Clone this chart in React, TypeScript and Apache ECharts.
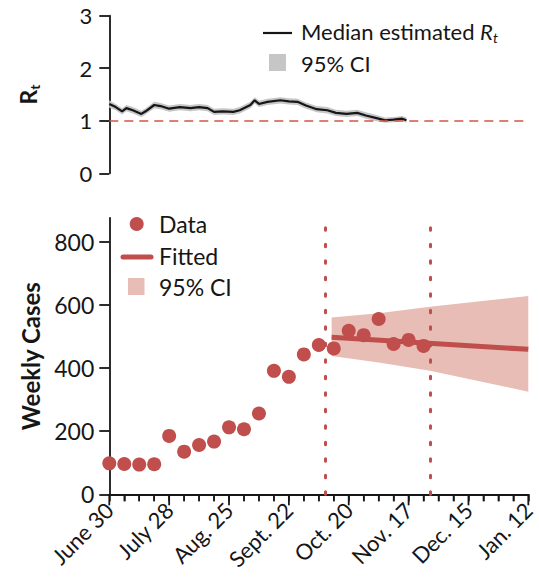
import React, { useEffect, useRef } from "react";
import * as echarts from "echarts";

// Days since June 30 for the estimated reproduction number
const rtDays = [0, 3, 6, 8, 11, 15, 17, 21, 24, 28, 33, 38, 42, 46, 49, 53, 58, 61, 66, 68, 70, 74, 80, 84, 88, 92, 97, 102, 106, 111, 116, 120, 125, 129, 133, 137, 139];
const rtMedian = [1.32, 1.26, 1.18, 1.24, 1.2, 1.13, 1.18, 1.3, 1.28, 1.23, 1.26, 1.24, 1.26, 1.24, 1.17, 1.18, 1.17, 1.2, 1.3, 1.39, 1.32, 1.36, 1.39, 1.37, 1.36, 1.29, 1.22, 1.2, 1.15, 1.13, 1.15, 1.1, 1.05, 1.01, 1.02, 1.04, 1.01];
const rtLower = [1.25, 1.2, 1.12, 1.18, 1.14, 1.07, 1.12, 1.24, 1.22, 1.17, 1.2, 1.18, 1.2, 1.18, 1.11, 1.12, 1.11, 1.14, 1.24, 1.33, 1.26, 1.3, 1.33, 1.31, 1.3, 1.23, 1.16, 1.14, 1.09, 1.07, 1.09, 1.04, 0.99, 0.96, 0.97, 0.99, 0.96];
const rtUpper = [1.39, 1.32, 1.24, 1.3, 1.26, 1.19, 1.24, 1.36, 1.34, 1.29, 1.32, 1.3, 1.32, 1.3, 1.23, 1.24, 1.23, 1.26, 1.36, 1.45, 1.38, 1.42, 1.45, 1.43, 1.42, 1.35, 1.28, 1.26, 1.21, 1.19, 1.21, 1.16, 1.11, 1.06, 1.07, 1.09, 1.06];

// Weekly case counts
const caseDays = [0, 7, 14, 21, 28, 35, 42, 49, 56, 63, 70, 77, 84, 91, 98, 105, 112, 119, 126, 133, 140, 147];
const weeklyCases = [98, 96, 94, 95, 185, 135, 156, 167, 212, 206, 256, 391, 372, 443, 473, 462, 518, 504, 555, 476, 489, 470];

// Projection
const fitDays = [104, 196];
const fitValues = [497, 459];
const ciDays = [104, 126, 150, 196];
const ciUpper = [560, 573, 594, 628];
const ciLower = [438, 417, 391, 325];

// Vertical reference dates
const refDays = [101, 150];

const tickLabels = ["June 30", "July 28", "Aug. 25", "Sept. 22", "Oct. 20", "Nov. 17", "Dec. 15", "Jan. 12"];
const labelDays = [0, 28, 56, 84, 112, 140, 168, 196];
const weekDays = [0, 7, 14, 21, 28, 35, 42, 49, 56, 63, 70, 77, 84, 91, 98, 105, 112, 119, 126, 133, 140, 147, 154, 161, 168, 175, 182, 189, 196];
const caseTicks = [0, 200, 400, 600, 800];

const RED = "#bf4e4c";
const PINK = "#e7bdb5";
const GREY = "#c6c6c6";
const INK = "#161616";
const FONT = "Lato";

function bandSeries(
  axisIndex: number,
  days: number[],
  lower: number[],
  upper: number[],
  fill: string
) {
  return {
    type: "custom",
    xAxisIndex: axisIndex,
    yAxisIndex: axisIndex,
    silent: true,
    data: days.map((d, i) => [d, lower[i], upper[i]]),
    encode: { x: 0, y: [1, 2] },
    renderItem: (params: any, api: any) => {
      if (params.dataIndex !== 0) return null;
      const top = days.map((d, i) => api.coord([d, upper[i]]));
      const bottom = days.map((d, i) => api.coord([d, lower[i]])).reverse();
      return {
        type: "polygon",
        shape: { points: top.concat(bottom) },
        style: { fill },
      };
    },
    z: 1,
  };
}

const axisLineStyle = { color: INK, width: 1.8 };

export default function App() {
  const ref = useRef<HTMLDivElement>(null);

  useEffect(() => {
    if (!ref.current) return;
    const chart = echarts.init(ref.current, null, { renderer: "svg" });
    const option: any = {
      animation: false,
      textStyle: { fontFamily: FONT, color: INK },
      grid: [
        { left: 109.3, top: 15.7, width: 419, height: 157.6, outerBoundsMode: "none", containLabel: false },
        { left: 109.3, top: 218, width: 419, height: 276.3, outerBoundsMode: "none", containLabel: false },
      ],
      xAxis: [
        { gridIndex: 0, type: "value", min: 0, max: 196, show: false },
        {
          gridIndex: 1,
          type: "value",
          position: "bottom",
          min: 0,
          max: 196,
          interval: 7,
          axisLine: { show: true, lineStyle: axisLineStyle },
          axisTick: { show: true, length: 7, customValues: weekDays, lineStyle: { color: INK, width: 1.5 } },
          splitLine: { show: false },
          axisLabel: {
            rotate: 45,
            margin: 12,
            fontSize: 22,
            color: INK,
            fontFamily: FONT,
            verticalAlign: "middle",
            padding: [6, 0, 0, 0],
            customValues: labelDays,
            formatter: (v: number) => tickLabels[labelDays.indexOf(v)] ?? "",
          },
        },
      ],
      yAxis: [
        {
          gridIndex: 0,
          type: "value",
          min: 0,
          max: 3,
          interval: 1,
          axisLine: { show: true, lineStyle: axisLineStyle },
          axisTick: { show: true, length: 10, lineStyle: { color: INK, width: 1.8 } },
          splitLine: { show: false },
          axisLabel: { fontSize: 22, margin: 17, color: INK, fontFamily: FONT },
          name: "{b|R}{s|t}",
          nameLocation: "middle",
          nameRotate: 90,
          nameGap: 68,
          nameTextStyle: {
            rich: {
              b: { fontSize: 23, fontWeight: "bold", fontFamily: FONT, color: INK },
              s: { fontSize: 14, fontWeight: "bold", fontFamily: FONT, color: INK, padding: [12, 0, 0, 0] },
            },
          },
        },
        {
          gridIndex: 1,
          type: "value",
          min: 0,
          max: 875,
          axisLine: { show: true, lineStyle: axisLineStyle },
          axisTick: { show: true, length: 10, customValues: caseTicks, lineStyle: { color: INK, width: 1.8 } },
          splitLine: { show: false },
          axisLabel: { fontSize: 23, margin: 15, color: INK, fontFamily: FONT, customValues: caseTicks },
          name: "Weekly Cases",
          nameLocation: "middle",
          nameRotate: 90,
          nameGap: 67,
          nameTextStyle: { fontSize: 24, fontWeight: "bold", fontFamily: FONT, color: INK },
        },
      ],
      series: [
        bandSeries(0, rtDays, rtLower, rtUpper, GREY),
        {
          type: "line",
          xAxisIndex: 0,
          yAxisIndex: 0,
          data: rtDays.map((d, i) => [d, rtMedian[i]]),
          showSymbol: false,
          symbol: "none",
          lineStyle: { color: INK, width: 2.2 },
          z: 3,
          markLine: {
            silent: true,
            symbol: "none",
            label: { show: false },
            lineStyle: { color: "#d6544a", width: 1.6, type: [9, 6] },
            data: [{ yAxis: 1 }],
          },
        },
        // weekly ticks, longer at the labelled 4-week dates
        {
          type: "custom",
          xAxisIndex: 1,
          yAxisIndex: 1,
          silent: true,
          clip: false,
          data: weekDays.map((d) => [d, 0]),
          encode: { x: 0, y: 1 },
          renderItem: (params: any, api: any) => {
            const day = api.value(0);
            const p = api.coord([day, 0]);
            const major = labelDays.indexOf(day) >= 0;
            return {
              type: "line",
              shape: { x1: p[0], y1: p[1], x2: p[0], y2: p[1] + (major ? 11 : 7) },
              style: { stroke: INK, lineWidth: major ? 1.8 : 1.5 },
              z2: 10,
            };
          },
          z: 10,
        },
        bandSeries(1, ciDays, ciLower, ciUpper, PINK),
        {
          type: "line",
          xAxisIndex: 1,
          yAxisIndex: 1,
          data: fitDays.map((d, i) => [d, fitValues[i]]),
          symbol: "none",
          lineStyle: { color: RED, width: 5 },
          z: 3,
        },
        {
          type: "scatter",
          xAxisIndex: 1,
          yAxisIndex: 1,
          data: caseDays.map((d, i) => [d, weeklyCases[i]]),
          symbolSize: 14,
          itemStyle: { color: RED, opacity: 1 },
          z: 4,
          markLine: {
            silent: true,
            symbol: "none",
            label: { show: false },
            lineStyle: { color: RED, width: 3, type: [2.5, 14], cap: "round" },
            data: refDays.map((d) => ({ xAxis: d })),
          },
        },
      ],
      graphic: [
        // Rt legend
        { type: "line", shape: { x1: 263, y1: 33, x2: 292, y2: 33 }, style: { stroke: INK, lineWidth: 2.2 } },
        {
          type: "text",
          x: 301,
          y: 31,
          style: {
            text: "Median estimated {r|R}{t|t}",
            fontFamily: FONT,
            fontSize: 22,
            fill: INK,
            verticalAlign: "middle",
            rich: {
              r: { fontFamily: FONT, fontSize: 22, fontStyle: "italic", fill: INK },
              t: { fontFamily: FONT, fontSize: 14, fontStyle: "italic", fill: INK, padding: [12, 0, 0, 0] },
            },
          },
        },
        { type: "rect", shape: { x: 269, y: 54, width: 17, height: 17 }, style: { fill: GREY } },
        {
          type: "text",
          x: 301,
          y: 63,
          style: { text: "95% CI", fontFamily: FONT, fontSize: 22, fill: INK, verticalAlign: "middle" },
        },
        // Case legend
        { type: "circle", shape: { cx: 136.7, cy: 224, r: 7 }, style: { fill: RED } },
        {
          type: "text",
          x: 159,
          y: 224,
          style: { text: "Data", fontFamily: FONT, fontSize: 23, fill: INK, verticalAlign: "middle" },
        },
        {
          type: "line",
          shape: { x1: 123, y1: 257, x2: 151, y2: 257 },
          style: { stroke: RED, lineWidth: 5, lineCap: "round" },
        },
        {
          type: "text",
          x: 159,
          y: 256,
          style: { text: "Fitted", fontFamily: FONT, fontSize: 23, fill: INK, verticalAlign: "middle" },
        },
        { type: "rect", shape: { x: 128, y: 278, width: 16.5, height: 17 }, style: { fill: PINK } },
        {
          type: "text",
          x: 159,
          y: 287,
          style: { text: "95% CI", fontFamily: FONT, fontSize: 23, fill: INK, verticalAlign: "middle" },
        },
      ],
    };
    chart.setOption(option);
    return () => chart.dispose();
  }, []);

  return (
    <div
      ref={ref}
      style={{ position: "absolute", left: 0, top: 0, width: 539, height: 584 }}
    />
  );
}
